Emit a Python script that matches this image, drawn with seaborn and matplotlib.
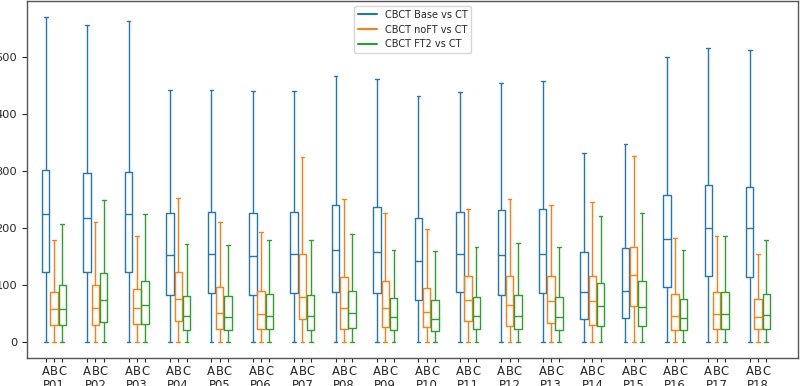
import numpy as np
import pandas as pd
import matplotlib
matplotlib.use("Agg")
import matplotlib.pyplot as plt
import seaborn as sns
from matplotlib.lines import Line2D

patients = ["P01", "P02", "P03", "P04", "P05", "P06", "P07", "P08", "P09",
            "P10", "P11", "P12", "P13", "P14", "P15", "P16", "P17", "P18"]
series = ["CBCT Base vs CT", "CBCT noFT vs CT", "CBCT FT2 vs CT"]
sub_labels = ["A", "B", "C"]

# five-number summaries (min, q1, median, q3, max) per patient
base_min = [0] * 18
base_q1 = [123, 123, 122, 83, 86, 83, 85, 87, 86, 74, 88, 82, 85, 40, 41, 97, 116, 114]
base_med = [225, 218, 224, 153, 155, 151, 154, 161, 157, 141, 155, 153, 155, 87, 90, 181, 200, 200]
base_q3 = [301, 296, 298, 227, 228, 227, 228, 240, 237, 217, 228, 231, 234, 157, 164, 258, 276, 272]
base_max = [570, 556, 564, 442, 442, 441, 441, 467, 462, 431, 438, 455, 458, 332, 347, 500, 516, 512]

noft_min = [0] * 18
noft_q1 = [29, 29, 32, 37, 23, 22, 40, 22, 26, 26, 36, 27, 33, 29, 62, 20, 23, 22]
noft_med = [57, 60, 60, 76, 51, 48, 79, 60, 60, 53, 74, 65, 71, 71, 117, 45, 48, 44]
noft_q3 = [88, 100, 93, 123, 97, 89, 154, 114, 107, 95, 115, 116, 115, 115, 167, 84, 87, 75]
noft_max = [178, 210, 185, 253, 211, 192, 325, 251, 227, 198, 234, 251, 241, 245, 326, 182, 185, 155]

ft2_min = [0] * 18
ft2_q1 = [29, 35, 31, 20, 20, 22, 21, 24, 20, 19, 22, 22, 20, 28, 28, 20, 23, 22]
ft2_med = [58, 74, 65, 45, 44, 46, 46, 50, 43, 40, 46, 46, 44, 63, 61, 42, 49, 47]
ft2_q3 = [99, 121, 107, 81, 81, 84, 83, 90, 77, 74, 79, 82, 79, 104, 106, 76, 87, 84]
ft2_max = [207, 249, 224, 171, 170, 178, 178, 189, 162, 160, 167, 174, 167, 221, 227, 162, 185, 178]

summaries = {
    series[0]: [base_min, base_q1, base_med, base_q3, base_max],
    series[1]: [noft_min, noft_q1, noft_med, noft_q3, noft_max],
    series[2]: [ft2_min, ft2_q1, ft2_med, ft2_q3, ft2_max],
}

rows = []
for s, stats in summaries.items():
    for i, p in enumerate(patients):
        for st in stats:
            rows.append({"patient": p, "series": s, "value": st[i]})
df = pd.DataFrame(rows)

colors = ["#1f77b4", "#ff7f0e", "#2ca02c"]

sns.set_style("ticks")
plt.rcParams["font.family"] = ["DejaVu Sans"]

fig = plt.figure(figsize=(8.0, 3.86), dpi=100)
ax = fig.add_axes([27 / 800, 1 - 358 / 386, (798 - 27) / 800, 357 / 386])

sns.boxplot(data=df, x="patient", y="value", hue="series", hue_order=series,
            order=patients, palette=colors, fill=False, whis=(0, 100),
            showfliers=False, width=0.6, gap=0.1, linewidth=1.0,
            legend=False, ax=ax)

ticks = []
labels = []
for i, p in enumerate(patients):
    for j, off in enumerate((-0.2, 0.0, 0.2)):
        ticks.append(i + off)
        labels.append(sub_labels[j] + ("\n" + p if j == 1 else ""))
ax.set_xticks(ticks)
ax.set_xticklabels(labels, fontsize=8.4, linespacing=1.15)
ax.set_xlim(-0.652, 17.966)
ax.set_ylim(-28.5, 598.5)
ax.set_yticks([0, 100, 200, 300, 400, 500])
ax.tick_params(axis="y", labelsize=8.2, length=3.5, width=0.8, pad=3.5)
ax.tick_params(axis="x", length=3.0, width=0.8, pad=2.0)
ax.set_xlabel("")
ax.set_ylabel("")
for sp in ax.spines.values():
    sp.set_color("#555555")
    sp.set_linewidth(1.0)

handles = [Line2D([0], [0], color=c, lw=1.5) for c in colors]
ax.legend(handles, series, loc="upper center", fontsize=7, frameon=True)

fig.savefig("out.png", dpi=100)
